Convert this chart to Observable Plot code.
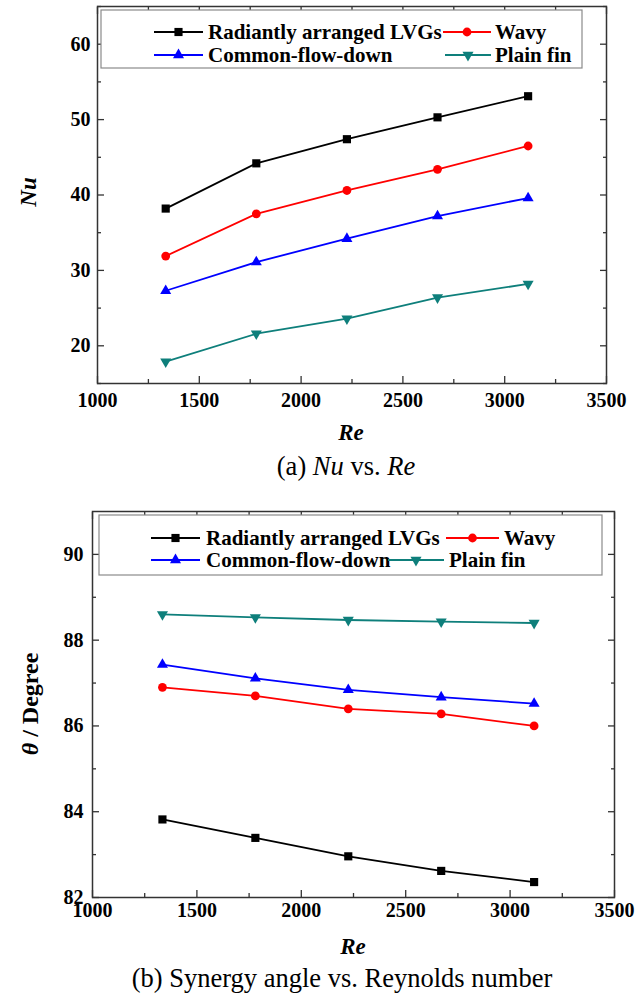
<!DOCTYPE html>
<html><head><meta charset="utf-8">
<script src="https://cdn.jsdelivr.net/npm/d3@7"></script>
<script src="https://cdn.jsdelivr.net/npm/@observablehq/plot@0.6"></script>
<style>
body{margin:0;background:#fff;}
#wrap{position:relative;width:639px;height:993px;font-family:"Liberation Serif","Times New Roman",serif;color:#000;}
#wrap svg{position:absolute;left:0;overflow:visible;}
.cap{position:absolute;left:0;width:639px;text-align:center;font-size:26.5px;line-height:30px;}
</style></head><body><div id="wrap"></div>
<script>
// ---- data ----
const re = [1335, 1780, 2225, 2670, 3115];
const seriesNames = ["Radiantly arranged LVGs", "Wavy", "Common-flow-down", "Plain fin"];
const nuLVG   = [38.2, 44.2, 47.4, 50.3, 53.1];
const nuWavy  = [31.9, 37.5, 40.6, 43.4, 46.5];
const nuCFD   = [27.3, 31.1, 34.2, 37.2, 39.6];
const nuPlain = [17.9, 21.6, 23.6, 26.4, 28.2];
const thLVG   = [83.82, 83.39, 82.96, 82.62, 82.36];
const thWavy  = [86.90, 86.70, 86.40, 86.28, 86.00];
const thCFD   = [87.43, 87.11, 86.84, 86.67, 86.52];
const thPlain = [88.60, 88.53, 88.47, 88.43, 88.40];
const xTicks = [1000, 1500, 2000, 2500, 3000, 3500];
const xMinor = [1250, 1750, 2250, 2750, 3250];
const nuTicks = [20, 30, 40, 50, 60];
const nuMinor = [15, 25, 35, 45, 55, 65];
const thTicks = [82, 84, 86, 88, 90];
const thMinor = [83, 85, 87, 89];
const colors = ["#000000", "#ff0000", "#0000ff", "#0e7f7b"];

// downward triangle symbol
const triangleDown = {
  draw(ctx, size) {
    const s3 = Math.sqrt(3);
    const y = -Math.sqrt(size / (s3 * 3));
    ctx.moveTo(0, -y * 2);
    ctx.lineTo(-s3 * y, y);
    ctx.lineTo(s3 * y, y);
    ctx.closePath();
  }
};
const symbols = ["square", "circle", "triangle", triangleDown];
const radii = [4.6, 4.4, 4.1, 4.1];
const d3symbols = [d3.symbolSquare, d3.symbolCircle, d3.symbolTriangle, triangleDown];

const wrap = document.getElementById("wrap");
const FONT = '"Liberation Serif","Times New Roman",serif';
const fmt = d => String(d);

function panel(cfg) {
  const data = [];
  cfg.series.forEach((vals, i) => vals.forEach((v, j) => data.push({s: i, x: re[j], y: v})));
  const marks = [];
  // ticks (inward) on all four sides
  for (const anchor of ["bottom", "top"]) {
    marks.push(Plot.axisX(xTicks, {anchor, tickSize: -7, fill: "none", stroke: "#333", strokeWidth: 1.3, label: null}));
    marks.push(Plot.axisX(xMinor, {anchor, tickSize: -4, fill: "none", stroke: "#333", strokeWidth: 1.3, label: null}));
  }
  for (const anchor of ["left", "right"]) {
    marks.push(Plot.axisY(cfg.yMajor, {anchor, tickSize: -7, fill: "none", stroke: "#333", strokeWidth: 1.3, label: null}));
    marks.push(Plot.axisY(cfg.yMinor, {anchor, tickSize: -4, fill: "none", stroke: "#333", strokeWidth: 1.3, label: null}));
  }
  marks.push(Plot.axisX(xTicks, {anchor: "bottom", tickSize: 0, tickPadding: cfg.xPad, tickFormat: fmt, label: null}));
  marks.push(Plot.axisY(cfg.yMajor, {anchor: "left", tickSize: 0, tickPadding: cfg.yPad, tickFormat: fmt, label: null}));
  marks.push(Plot.frame({stroke: "#333", strokeWidth: 1.5}));
  cfg.series.forEach((vals, i) => {
    const d = data.filter(p => p.s === i);
    marks.push(Plot.line(d, {x: "x", y: "y", stroke: colors[i], strokeWidth: 1.8}));
  });
  cfg.series.forEach((vals, i) => {
    const d = data.filter(p => p.s === i);
    marks.push(Plot.dot(d, {x: "x", y: "y", symbol: symbols[i], r: radii[i], fill: colors[i], stroke: "none"}));
  });
  const svg = Plot.plot({
    width: 639, height: cfg.height,
    marginTop: cfg.mt, marginBottom: cfg.mb, marginLeft: cfg.ml, marginRight: cfg.mr,
    x: {domain: [1000, 3500], axis: null},
    y: {domain: cfg.yDomain, axis: null},
    style: {fontFamily: FONT, fontSize: "20px", fontWeight: "bold", color: "#000", background: "transparent", overflow: "visible"},
    marks
  });
  svg.style.top = cfg.top + "px";
  wrap.appendChild(svg);
  const s = d3.select(svg);
  // axis titles
  s.append("text").attr("x", cfg.xTitle[0]).attr("y", cfg.xTitle[1]).attr("dy", "0.35em")
    .attr("text-anchor", "middle").attr("font-size", 23).attr("font-weight", "bold").attr("font-style", "italic")
    .attr("font-family", FONT).text("Re");
  const yt = s.append("text").attr("transform", `translate(${cfg.yTitle[0]},${cfg.yTitle[1]}) rotate(-90)`).attr("dy", "0.35em")
    .attr("text-anchor", "middle").attr("font-size", cfg.yTitleSize).attr("font-weight", "bold").attr("font-family", FONT);
  cfg.yTitleParts.forEach(([t, it]) => yt.append("tspan").attr("font-style", it ? "italic" : "normal").text(t));
  // legend
  const L = cfg.legend;
  const g = s.append("g").attr("text-anchor", "start");
  g.append("rect").attr("x", L.box[0]).attr("y", L.box[1]).attr("width", L.box[2]).attr("height", L.box[3])
    .attr("fill", "white").attr("stroke", "#8a8a8a").attr("stroke-width", 1.2);
  L.items.forEach((it, i) => {
    const y = L.rows[it.row];
    g.append("line").attr("x1", it.l[0]).attr("x2", it.l[1]).attr("y1", y).attr("y2", y)
      .attr("stroke", colors[i]).attr("stroke-width", 1.8);
    const sz = Math.PI * radii[i] * radii[i];
    g.append("path").attr("d", d3.symbol(d3symbols[i], sz)()).attr("transform", `translate(${(it.l[0] + it.l[1]) / 2},${y})`)
      .attr("fill", colors[i]);
    g.append("text").attr("x", it.t).attr("y", y).attr("dy", "0.35em").attr("font-size", 21)
      .attr("text-anchor", "start")
      .attr("font-weight", "bold").attr("font-family", FONT).text(seriesNames[i]);
  });
}

panel({
  top: 0, height: 445, mt: 6, mb: 62, ml: 97, mr: 33,
  yDomain: [15, 65], yMajor: nuTicks, yMinor: nuMinor,
  series: [nuLVG, nuWavy, nuCFD, nuPlain],
  xPad: 9, yPad: 7,
  xTitle: [351, 432], yTitle: [28, 192], yTitleParts: [["Nu", true]], yTitleSize: 23,
  legend: {box: [101, 10, 481, 58], rows: [32, 55],
    items: [{row: 0, l: [154, 203], t: 208}, {row: 0, l: [443, 491], t: 495},
            {row: 1, l: [154, 203], t: 208}, {row: 1, l: [445, 491], t: 495}]}
});

panel({
  top: 500, height: 460, mt: 11, mb: 63, ml: 92, mr: 25,
  yDomain: [82, 91], yMajor: thTicks, yMinor: thMinor,
  series: [thLVG, thWavy, thCFD, thPlain],
  xPad: 5, yPad: 9,
  xTitle: [353, 446], yTitle: [30, 204], yTitleParts: [["θ", true], [" / Degree", false]], yTitleSize: 24,
  legend: {box: [99, 15, 503, 60], rows: [38, 60],
    items: [{row: 0, l: [151, 200], t: 206}, {row: 0, l: [446, 499], t: 504},
            {row: 1, l: [151, 200], t: 206}, {row: 1, l: [388, 444], t: 449}]}
});

const capA = document.createElement("div");
capA.className = "cap"; capA.style.top = "451px"; capA.style.width = "692px";
capA.innerHTML = "(a) <i>Nu</i> vs. <i>Re</i>";
wrap.appendChild(capA);
const capB = document.createElement("div");
capB.className = "cap"; capB.style.top = "963px"; capB.style.width = "684px";
capB.textContent = "(b) Synergy angle vs. Reynolds number";
wrap.appendChild(capB);
</script></body></html>
